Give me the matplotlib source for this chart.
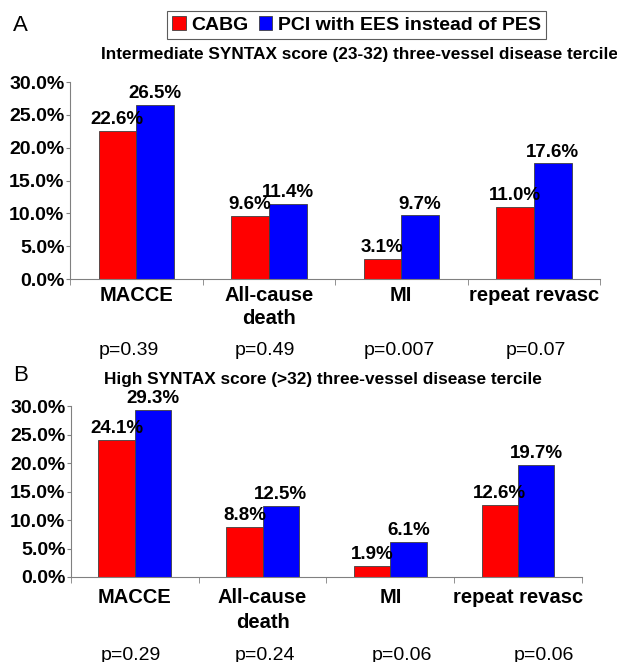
import matplotlib
matplotlib.use("Agg")
import matplotlib.pyplot as plt
from matplotlib.patches import Patch
import numpy as np

plt.rcParams['font.family'] = ['Liberation Sans', 'DejaVu Sans']

# datos
categorias = ["MACCE", "All-cause\ndeath", "MI", "repeat revasc"]
series = ["CABG", "PCI with EES instead of PES"]
colores = ["#ff0000", "#0000ff"]

cabg_a = [22.6, 9.6, 3.1, 11.0]
pci_a = [26.5, 11.4, 9.7, 17.6]
p_a = ["p=0.39", "p=0.49", "p=0.007", "p=0.07"]
titulo_a = "Intermediate SYNTAX score (23-32) three-vessel disease tercile"

cabg_b = [24.1, 8.8, 1.9, 12.6]
pci_b = [29.3, 12.5, 6.1, 19.7]
p_b = ["p=0.29", "p=0.24", "p=0.06", "p=0.06"]
titulo_b = "High SYNTAX score (>32) three-vessel disease tercile"

yticks = [0, 5, 10, 15, 20, 25, 30]

fig = plt.figure(figsize=(6.17, 6.62), dpi=100)
ax_a = fig.add_axes([0.1135, 0.5785, 0.859, 0.2976])
ax_b = fig.add_axes([0.1151, 0.1284, 0.828, 0.2583])


def panel(ax, cabg, pci, pvals, p_y, p_dx, pad, lsp):
    x = np.arange(len(categorias))
    w = 0.285
    b1 = ax.bar(x - w / 2, cabg, w, color=colores[0], edgecolor="#404040", linewidth=0.6)
    b2 = ax.bar(x + w / 2, pci, w, color=colores[1], edgecolor="#404040", linewidth=0.6)
    for barras, vals in ((b1, cabg), (b2, pci)):
        for r, v in zip(barras, vals):
            ax.annotate(f"{v:.1f}%", (r.get_x() + r.get_width() / 2, v),
                        xytext=(0, 2), textcoords="offset points",
                        ha="center", va="bottom", fontsize=13.5, fontweight="bold")
    ax.set_xlim(-0.5, len(categorias) - 0.5)
    ax.set_ylim(0, 30)
    ax.set_yticks(yticks)
    ax.set_yticklabels([f"{t:.1f}%" for t in yticks], fontsize=14, fontweight="bold")
    ax.set_xticks(x)
    ax.set_xticklabels(categorias, fontsize=14.5, fontweight="bold", linespacing=lsp)
    ax.tick_params(axis="x", which="major", length=0, pad=pad)
    ax.set_xticks(np.arange(len(categorias) + 1) - 0.5, minor=True)
    ax.tick_params(axis="x", which="minor", length=4, color="#808080")
    ax.tick_params(axis="y", length=3, color="#808080", pad=1)
    for s in ("top", "right"):
        ax.spines[s].set_visible(False)
    for s in ("left", "bottom"):
        ax.spines[s].set_color("#808080")
        ax.spines[s].set_linewidth(0.8)
    trans = ax.get_xaxis_transform()
    for xi, dx, p in zip(x, p_dx, pvals):
        ax.text(xi + dx, p_y, p, transform=trans, ha="center", va="center", fontsize=14)


panel(ax_a, cabg_a, pci_a, p_a, -0.362, [-0.06, -0.03, -0.015, 0.015], 5, 1.25)
panel(ax_b, cabg_b, pci_b, p_b, -0.46, [-0.03, 0.02, 0.09, 0.2], 8, 1.4)

fig.text(0.582, 0.918, titulo_a, ha="center", va="center", fontsize=12.4, fontweight="bold")
fig.text(0.524, 0.426, titulo_b, ha="center", va="center", fontsize=12.4, fontweight="bold")
fig.text(0.021, 0.962, "A", fontsize=16, va="center")
fig.text(0.021, 0.4335, "B", fontsize=16, va="center")

handles = [Patch(facecolor=c, edgecolor="#404040", linewidth=0.6) for c in colores]
leg = fig.legend(handles, series, loc="center", bbox_to_anchor=(0.578, 0.962), ncol=2,
                 frameon=True, fancybox=False, edgecolor="#333333", handlelength=0.7,
                 handleheight=0.7, handletextpad=0.3, columnspacing=0.5, borderpad=0.25,
                 borderaxespad=0, prop={"size": 14, "weight": "bold"})
leg.get_frame().set_linewidth(0.8)

fig.savefig("out.png", dpi=100)
